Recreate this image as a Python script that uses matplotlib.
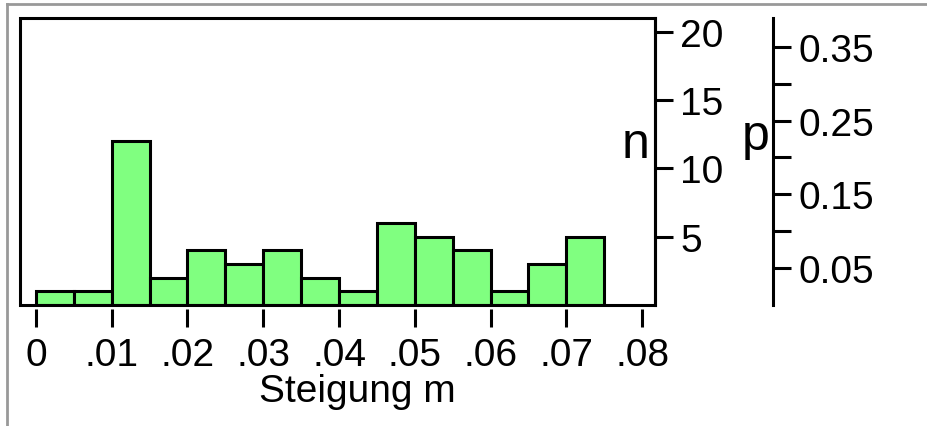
import matplotlib
matplotlib.use('Agg')
import matplotlib.pyplot as plt
from matplotlib.patches import Rectangle
from matplotlib.lines import Line2D

# ---- data ----
bin_left = [0.000, 0.005, 0.010, 0.015, 0.020, 0.025, 0.030, 0.035,
            0.040, 0.045, 0.050, 0.055, 0.060, 0.065, 0.070]
counts = [1, 1, 12, 2, 4, 3, 4, 2, 1, 6, 5, 4, 1, 3, 5]
bin_width = 0.005
x_ticks = [0.00, 0.01, 0.02, 0.03, 0.04, 0.05, 0.06, 0.07, 0.08]
x_tick_labels = ['0', '.01', '.02', '.03', '.04', '.05', '.06', '.07', '.08']
n_ticks = [5, 10, 15, 20]
n_tick_labels = ['5', '10', '15', '20']
p_ticks = [0.05, 0.10, 0.15, 0.20, 0.25, 0.30, 0.35]
p_tick_labels = ['0.05', '', '0.15', '', '0.25', '', '0.35']
total = sum(counts)

plt.rcParams['font.family'] = ['Liberation Sans', 'DejaVu Sans']

W, H = 928, 427
fig = plt.figure(figsize=(W / 100, H / 100), dpi=100)
L, R, T, B = 20, 655, 19, 306
ax = fig.add_axes([L / W, 1 - B / H, (R - L) / W, (B - T) / H])

ax.bar(bin_left, counts, width=bin_width, align='edge', color='#80ff80',
       edgecolor='black', linewidth=2.2, zorder=2)
ax.set_xlim(-0.0021, 0.0817)
ax.set_ylim(0, 21)

ax2 = ax.twinx()
ax2.set_ylim(0, 21 / total)

for s in ['top', 'left', 'bottom']:
    ax.spines[s].set_visible(False)
ax.spines['right'].set_linewidth(2.2)
ax.spines['bottom'].set_position(('outward', 3))
ax.add_patch(Rectangle((0, 0), 1, 1, transform=ax.transAxes, fill=False,
                       edgecolor='black', linewidth=2.2, clip_on=False, zorder=3))

ax.set_xticks(x_ticks)
ax.set_xticklabels(x_tick_labels)
ax.tick_params(axis='x', direction='out', length=13, width=2.2, pad=7,
               labelsize=28)
ax.yaxis.tick_right()
ax.set_yticks(n_ticks)
ax.set_yticklabels(n_tick_labels)
ax.tick_params(axis='y', which='both', left=False, labelleft=False,
               right=True, labelright=True, direction='out', length=13,
               width=2.2, pad=5, labelsize=28)

for s in ['top', 'left', 'bottom']:
    ax2.spines[s].set_visible(False)
ax2.spines['right'].set_position(('outward', 85))
ax2.spines['right'].set_linewidth(2.2)
ax2.set_yticks(p_ticks)
ax2.set_yticklabels(p_tick_labels)
ax2.tick_params(axis='y', direction='out', length=13, width=2.2, pad=5,
                labelsize=28)

fig.text(636 / W, 1 - 158 / H, 'n', fontsize=36, ha='center', va='baseline')
fig.text(756 / W, 1 - 150 / H, 'p', fontsize=36, ha='center', va='baseline')
fig.text(357 / W, 1 - 402 / H, 'Steigung m', fontsize=28, ha='center',
         va='baseline')

# outer grey frame (top and left edges)
fig.add_artist(Line2D([7 / W, 1], [1 - 4.5 / H, 1 - 4.5 / H],
                      transform=fig.transFigure, color='#999999', lw=2))
fig.add_artist(Line2D([7 / W, 7 / W], [0, 1 - 4.5 / H],
                      transform=fig.transFigure, color='#999999', lw=2))

fig.savefig('out.png', dpi=100)
